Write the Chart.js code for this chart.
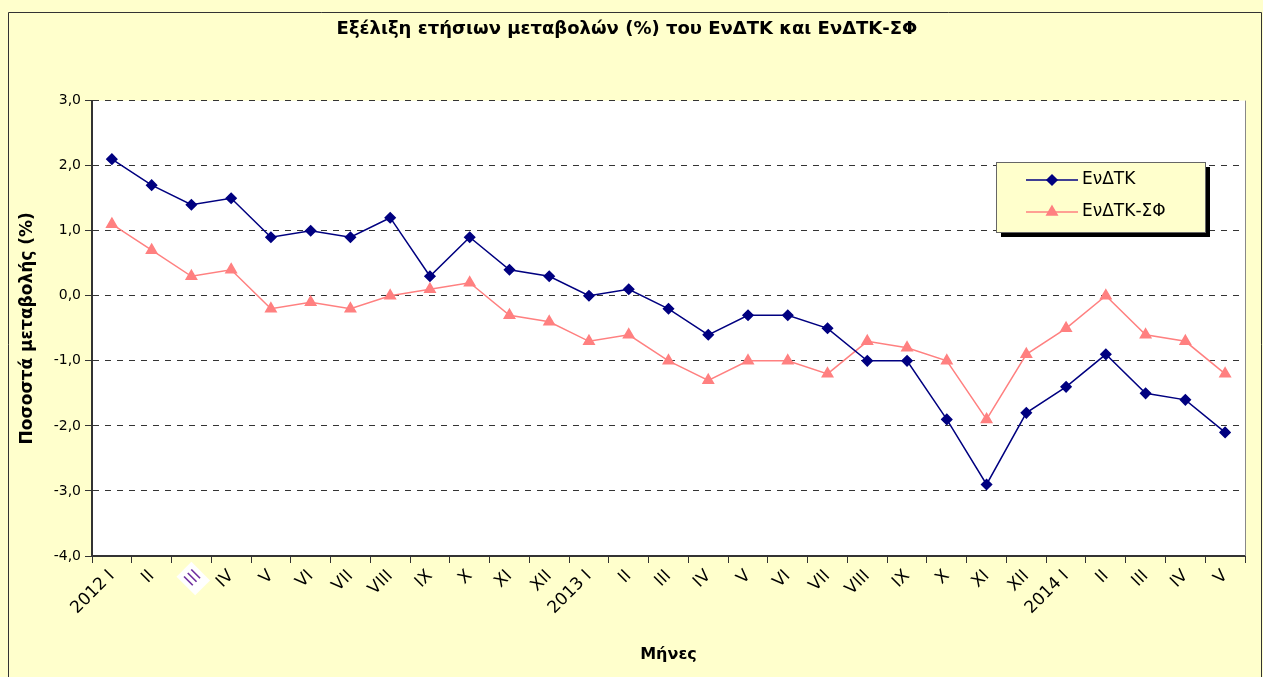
<!DOCTYPE html>
<html>
<head>
<meta charset="utf-8">
<script src="https://cdn.jsdelivr.net/npm/chart.js@4/dist/chart.umd.min.js"></script>
<style>
  html, body { margin: 0; padding: 0; background: #FFFFCC; }
  #wrap { width: 1263px; height: 677px; position: relative; }
</style>
</head>
<body>
<div id="wrap"><canvas id="chart" width="1263" height="677"></canvas></div>
<script>
// Month labels (Roman numerals, year shown on January)
const months = ['2012 I', 'II', 'III', 'IV', 'V', 'VI', 'VII', 'VIII', 'IX', 'X', 'XI', 'XII',
                '2013 I', 'II', 'III', 'IV', 'V', 'VI', 'VII', 'VIII', 'IX', 'X', 'XI', 'XII',
                '2014 I', 'II', 'III', 'IV', 'V'];

// Annual change (%) values
const evdtk   = [2.1, 1.7, 1.4, 1.5, 0.9, 1.0, 0.9, 1.2, 0.3, 0.9, 0.4, 0.3,
                 0.0, 0.1, -0.2, -0.6, -0.3, -0.3, -0.5, -1.0, -1.0, -1.9, -2.9, -1.8,
                 -1.4, -0.9, -1.5, -1.6, -2.1];
const evdtkSf = [1.1, 0.7, 0.3, 0.4, -0.2, -0.1, -0.2, 0.0, 0.1, 0.2, -0.3, -0.4,
                 -0.7, -0.6, -1.0, -1.3, -1.0, -1.0, -1.2, -0.7, -0.8, -1.0, -1.9, -0.9,
                 -0.5, 0.0, -0.6, -0.7, -1.2];

const seriesNames = ['ΕνΔΤΚ', 'ΕνΔΤΚ-ΣΦ'];
const yTicks = { min: -4, max: 3, step: 1 };

const FONT = '"DejaVu Sans", Verdana, sans-serif';

// Paint the yellow page, the frame and the white plot area
const backgroundPlugin = {
  id: 'background',
  beforeDraw(chart) {
    const { ctx, chartArea: a } = chart;
    ctx.save();
    ctx.fillStyle = '#FFFFCC';
    ctx.fillRect(0, 0, chart.width, chart.height);
    ctx.strokeStyle = '#333';
    ctx.lineWidth = 1;
    ctx.beginPath();
    ctx.moveTo(8.5, chart.height);
    ctx.lineTo(8.5, 12.5);
    ctx.lineTo(chart.width - 1.5, 12.5);
    ctx.lineTo(chart.width - 1.5, chart.height);
    ctx.stroke();
    ctx.fillStyle = '#FFFFFF';
    ctx.fillRect(a.left, a.top, a.right - a.left, a.bottom - a.top);
    ctx.restore();
  },
  afterDraw(chart) {
    const { ctx, chartArea: a } = chart;
    ctx.save();
    ctx.strokeStyle = '#888';
    ctx.lineWidth = 1;
    ctx.beginPath();
    ctx.moveTo(a.right + 0.5, a.top);
    ctx.lineTo(a.right + 0.5, a.bottom);
    ctx.stroke();
    ctx.restore();
  }
};

// Boxed legend inside the plot, with a black drop shadow
const boxLegendPlugin = {
  id: 'boxLegend',
  afterDraw(chart) {
    const { ctx } = chart;
    const x = 996, y = 162, w = 209, h = 70;
    ctx.save();
    ctx.fillStyle = '#000';
    ctx.fillRect(x + 5, y + 5, w, h);
    ctx.fillStyle = '#FFFFCC';
    ctx.fillRect(x, y, w, h);
    ctx.strokeStyle = '#666';
    ctx.lineWidth = 1;
    ctx.strokeRect(x + 0.5, y + 0.5, w, h);
    chart.data.datasets.forEach((ds, i) => {
      const ly = y + 18 + i * 32;
      ctx.strokeStyle = ds.borderColor;
      ctx.lineWidth = ds.borderWidth;
      ctx.beginPath();
      ctx.moveTo(x + 30, ly);
      ctx.lineTo(x + 82, ly);
      ctx.stroke();
      ctx.fillStyle = ds.pointBackgroundColor;
      ctx.strokeStyle = ds.pointBorderColor;
      Chart.helpers.drawPoint(ctx, {
        pointStyle: ds.pointStyle, radius: ds.pointRadius, rotation: 0,
        borderWidth: 1
      }, x + 56, ly);
      ctx.fillStyle = '#000';
      ctx.font = '17px ' + FONT;
      ctx.textBaseline = 'middle';
      ctx.fillText(ds.label, x + 86, ly);
    });
    ctx.restore();
  }
};

new Chart(document.getElementById('chart'), {
  type: 'line',
  data: {
    labels: months,
    datasets: [
      {
        label: seriesNames[0],
        data: evdtk,
        borderColor: '#000080',
        backgroundColor: '#000080',
        pointBackgroundColor: '#000080',
        pointBorderColor: '#000080',
        borderWidth: 1.5,
        pointStyle: 'rectRot',
        pointRadius: 5,
        tension: 0
      },
      {
        label: seriesNames[1],
        data: evdtkSf,
        borderColor: '#FF8080',
        backgroundColor: '#FF8080',
        pointBackgroundColor: '#FF8080',
        pointBorderColor: '#FF8080',
        borderWidth: 1.5,
        pointStyle: 'triangle',
        pointRadius: 6,
        tension: 0
      }
    ]
  },
  options: {
    responsive: false,
    animation: false,
    layout: { padding: { left: 9, right: 18, top: 0, bottom: 0 } },
    plugins: {
      legend: { display: false },
      tooltip: { enabled: false },
      title: {
        display: true,
        text: 'Εξέλιξη ετήσιων μεταβολών (%) του ΕνΔΤΚ και ΕνΔΤΚ-ΣΦ',
        color: '#000',
        font: { family: FONT, size: 18, weight: 'bold' },
        padding: { top: 19, bottom: 60 }
      }
    },
    scales: {
      x: {
        offset: true,
        grid: {
          offset: true,
          drawOnChartArea: false,
          drawTicks: true,
          tickLength: 7,
          color: '#333'
        },
        border: { color: '#333', width: 2 },
        ticks: {
          autoSkip: false,
          minRotation: 45,
          maxRotation: 45,
          padding: 3,
          color: ctx => ctx.index === 2 ? '#7030A0' : '#000',
          showLabelBackdrop: ctx => ctx.index === 2,
          backdropColor: '#FFFFFF',
          backdropPadding: 3,
          font: { family: FONT, size: 17 }
        },
        title: {
          display: true,
          text: 'Μήνες',
          color: '#000',
          font: { family: FONT, size: 16, weight: 'bold' },
          padding: { top: 4, bottom: 13 }
        },
        afterFit(scale) { scale.height = 121; }
      },
      y: {
        min: yTicks.min,
        max: yTicks.max,
        grid: {
          color: '#333',
          lineWidth: 1,
          drawTicks: true,
          tickLength: 7,
          tickBorderDash: [],
          tickColor: '#333'
        },
        border: { color: '#333', width: 2, dash: [6, 6] },
        ticks: {
          stepSize: yTicks.step,
          padding: 4,
          color: '#000',
          font: { family: FONT, size: 14 },
          callback: v => v.toFixed(1).replace('.', ',')
        },
        title: {
          display: true,
          text: 'Ποσοστά μεταβολής (%)',
          color: '#000',
          font: { family: FONT, size: 17, weight: 'bold' },
          padding: { top: 8, bottom: 0 }
        },
        afterFit(scale) { scale.width = 83; }
      }
    }
  },
  plugins: [backgroundPlugin, boxLegendPlugin]
});
</script>
</body>
</html>
